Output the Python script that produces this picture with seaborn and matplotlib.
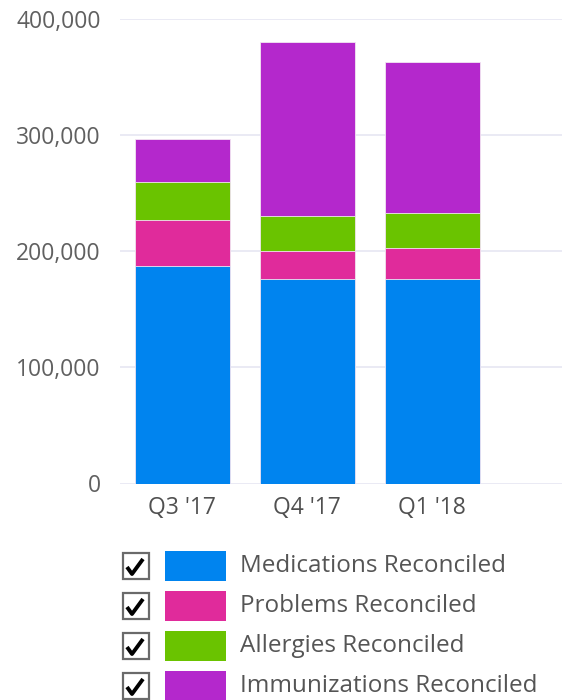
import numpy as np
import pandas as pd
import matplotlib
matplotlib.use("Agg")
import matplotlib.pyplot as plt
from matplotlib.patches import Rectangle
from matplotlib.ticker import FuncFormatter
import seaborn as sns

# Data (counts per quarter)
quarters = ["Q3 '17", "Q4 '17", "Q1 '18"]
medications = [187000, 176000, 176000]
problems = [40000, 24000, 27000]
allergies = [33000, 30000, 30000]
immunizations = [37000, 150000, 130000]

series_names = ["Medications Reconciled", "Problems Reconciled",
                "Allergies Reconciled", "Immunizations Reconciled"]
series_colors = ["#0084ef", "#e02b9b", "#6ac300", "#b428cc"]

sns.set_theme(style="white")
plt.rcParams['font.family'] = ['Open Sans', 'DejaVu Sans']

df = pd.DataFrame({
    "quarter": quarters,
    series_names[0]: medications,
    series_names[1]: problems,
    series_names[2]: allergies,
    series_names[3]: immunizations,
})
# cumulative tops so the stacked layers can be drawn back to front
cum = df[series_names].cumsum(axis=1)

fig = plt.figure(figsize=(5.62, 7.0), dpi=100)
ax = fig.add_axes([120 / 562, 1 - 483.5 / 700, 1 - 120 / 562, (483.5 - 19) / 700])

for name, color in reversed(list(zip(series_names, series_colors))):
    sns.barplot(x=df["quarter"], y=cum[name], color=color, saturation=1,
                width=0.76, edgecolor="#f2e6f2", linewidth=0.6, ax=ax, zorder=3)

ax.set_xlim(-0.5, 3.04)
ax.set_ylim(0, 400000)
ax.set_yticks([0, 100000, 200000, 300000, 400000])
ax.yaxis.set_major_formatter(FuncFormatter(lambda v, p: f"{int(v):,}"))
ax.set_xlabel("")
ax.set_ylabel("")
ax.grid(axis="y", color="#e6e6f2", linewidth=1.2, zorder=0)
ax.grid(axis="x", visible=False)
for s in ax.spines.values():
    s.set_visible(False)
ax.tick_params(axis="y", length=0, pad=14, labelsize=16.5, labelcolor="#606060")
ax.tick_params(axis="x", length=0, pad=9, labelsize=16.5, labelcolor="#505050")

# Legend with check boxes, drawn in pixel coordinates
leg = fig.add_axes([0, 0, 1, 160 / 700])
leg.set_xlim(0, 562)
leg.set_ylim(700, 540)
leg.axis("off")
for i, (name, color) in enumerate(zip(series_names, series_colors)):
    yc = 566 + 40 * i
    leg.add_patch(Rectangle((123, yc - 13), 26, 26, facecolor="white",
                            edgecolor="#6a6a6a", linewidth=1.6))
    leg.plot([127, 132, 143], [yc + 1, yc + 8, yc - 7], color="black",
             linewidth=2.8, solid_capstyle="butt")
    leg.add_patch(Rectangle((165, yc - 15), 61, 30, facecolor=color,
                            edgecolor="none"))
    leg.text(240, yc, name, fontsize=17.5, color="#555555", va="center", ha="left")

fig.savefig("out.png", dpi=100)
